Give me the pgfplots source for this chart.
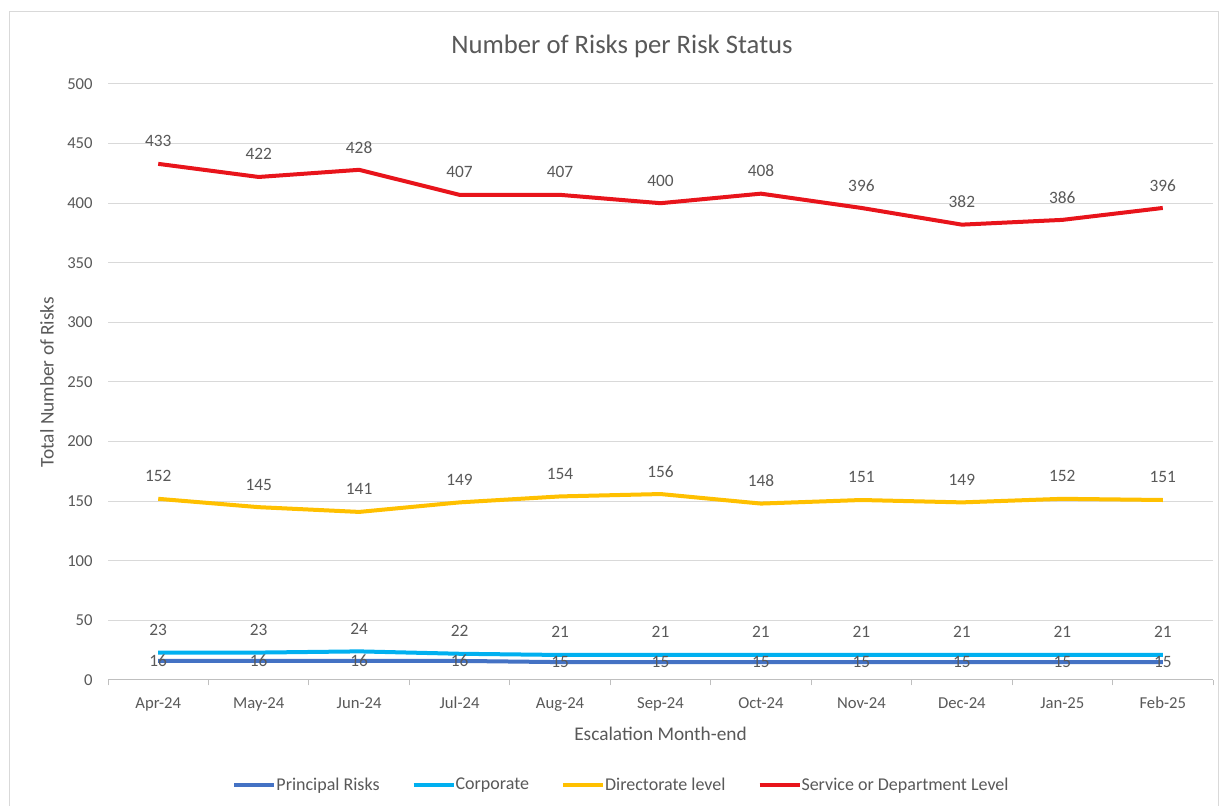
\documentclass[border=0pt]{standalone}
\usepackage{pgfplots}
\pgfplotsset{compat=1.18}
\usepackage{fontspec}
\setmainfont{Carlito}
\definecolor{prin}{HTML}{4472C4}
\definecolor{corp}{HTML}{00B0F0}
\definecolor{dirc}{HTML}{FFC000}
\definecolor{serv}{HTML}{E8141B}
\definecolor{txtgray}{HTML}{595959}
\definecolor{gridgray}{HTML}{D9D9D9}
\definecolor{axgray}{HTML}{BFBFBF}

% monthly counts
\pgfplotstableread{
x principal corporate directorate service
0 16 23 152 433
1 16 23 145 422
2 16 24 141 428
3 16 22 149 407
4 15 21 154 407
5 15 21 156 400
6 15 21 148 408
7 15 21 151 396
8 15 21 149 382
9 15 21 152 386
10 15 21 151 396
}\risks

\begin{document}
\begin{tikzpicture}
\useasboundingbox (0pt,0pt) rectangle (915.75pt,604.5pt);
\fill[white] (0pt,0pt) rectangle (915.75pt,604.5pt);
\draw[gridgray, line width=0.75pt] (6.75pt,-4pt) rectangle (913.5pt,595.5pt);
\node[txtgray, font=\fontsize{20}{24}\selectfont] at (466.5pt,570pt) {Number of Risks per Risk Status};
\begin{axis}[
  at={(81pt,94.5pt)}, anchor=south west,
  scale only axis,
  width=828.75pt, height=447pt,
  xmin=-0.5, xmax=10.5, ymin=0, ymax=500,
  xtick={0,...,10},
  xticklabels={Apr-24,May-24,Jun-24,Jul-24,Aug-24,Sep-24,Oct-24,Nov-24,Dec-24,Jan-25,Feb-25},
  minor xtick={-0.5,0.5,...,10.5},
  ytick={0,50,...,500},
  major tick length=0pt,
  minor tick length=4pt,
  tick align=outside,
  tick style={axgray, line width=0.75pt},
  axis x line*=bottom,
  axis y line*=left,
  y axis line style={draw=none},
  x axis line style={axgray, line width=0.75pt, -},
  ymajorgrids,
  grid style={gridgray, line width=0.75pt},
  ticklabel style={txtgray, font=\fontsize{12.5}{14}\selectfont},
  /pgf/number format/assume math mode=true,
  xticklabel style={yshift=-9pt, text height=9pt, text depth=2.5pt},
  yticklabel style={xshift=-8pt},
  xlabel={Escalation Month-end},
  ylabel={Total Number of Risks},
  label style={txtgray, font=\fontsize{14.5}{17}\selectfont},
  xlabel style={at={(axis description cs:0.5,-0.09)}, anchor=center},
  ylabel style={at={(axis description cs:-0.0552,0.5)}, anchor=center},
  clip=false,
  legend columns=4,
  legend style={at={(0.465,-0.176)}, anchor=center, draw=none, fill=none,
    font=\fontsize{13.5}{16}\selectfont, text=txtgray,
    /tikz/every odd column/.append style={column sep=-2pt},
    /tikz/every even column/.append style={column sep=22pt}},
  legend image code/.code={\draw[#1, line width=3pt] (0pt,0pt) -- (30pt,0pt);},
  every node near coord/.append style={txtgray, font=\fontsize{13}{15}\selectfont},
]
\addplot[prin, line width=3pt, nodes near coords, point meta=explicit,
  every node near coord/.append style={anchor=center}]
  table[x=x, y=principal, meta=principal] {\risks};
\addlegendentry{Principal Risks}
\addplot[corp, line width=3pt, nodes near coords, point meta=explicit,
  every node near coord/.append style={anchor=center, yshift=17pt}]
  table[x=x, y=corporate, meta=corporate] {\risks};
\addlegendentry{Corporate}
\addplot[dirc, line width=3pt, nodes near coords, point meta=explicit,
  every node near coord/.append style={anchor=center, yshift=17pt}]
  table[x=x, y=directorate, meta=directorate] {\risks};
\addlegendentry{Directorate level}
\addplot[serv, line width=3pt, nodes near coords, point meta=explicit,
  every node near coord/.append style={anchor=center, yshift=17pt}]
  table[x=x, y=service, meta=service] {\risks};
\addlegendentry{Service or Department Level}
\end{axis}
\end{tikzpicture}
\end{document}
